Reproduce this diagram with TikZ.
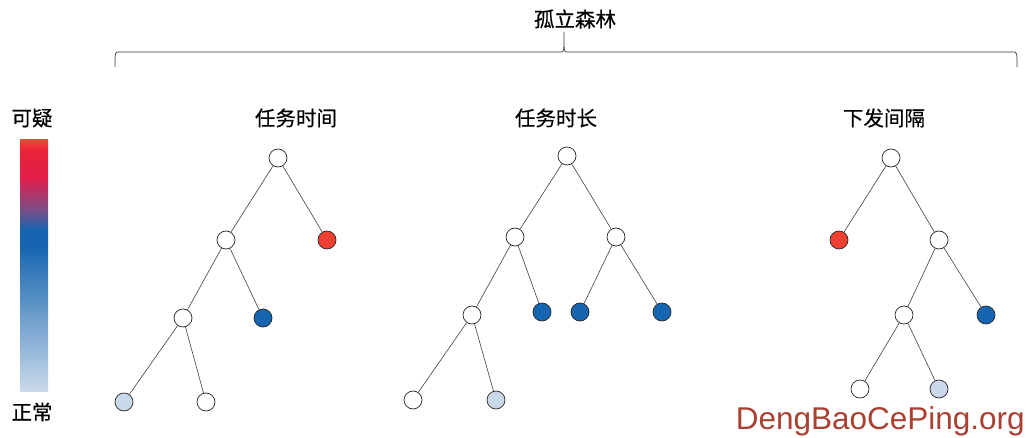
\documentclass[tikz,border=0pt]{standalone}
\usepackage{fontspec}
\newfontfamily\cjk[FakeBold=0.4]{Noto Sans CJK SC}
\newfontfamily\wmfont{Liberation Sans}
\definecolor{suspred}{RGB}{238,64,48}
\definecolor{normblue}{RGB}{21,101,176}
\definecolor{lightblue}{RGB}{201,217,234}
\definecolor{wmred}{RGB}{169,64,50}
\pgfdeclareverticalshading{scorebar}{100bp}{
  color(0bp)=(lightblue); color(25bp)=(lightblue);
  color(54bp)=(normblue); color(57bp)=(normblue);
  color(61.5bp)=(rgb,255:red,130;green,75;blue,130);
  color(67.5bp)=(rgb,255:red,226;green,30;blue,75);
  color(73bp)=(rgb,255:red,233;green,36;blue,55);
  color(75bp)=(rgb,255:red,238;green,68;blue,51); color(100bp)=(rgb,255:red,238;green,68;blue,51)}
\begin{document}
\begin{tikzpicture}[x=1pt,y=1pt,
  leaf/.style={circle,draw=black!85,line width=0.7pt,minimum size=18pt,inner sep=0pt,fill=white},
  hot/.style={leaf,fill=suspred},
  cold/.style={leaf,fill=normblue},
  cool/.style={leaf,fill=lightblue},
  title/.style={font=\cjk\fontsize{20.5}{24}\selectfont,inner sep=0pt},
  link/.style={draw=black!75,line width=0.6pt}]
  \useasboundingbox (0,0) rectangle (1026,437);
  % colour scale
  \shade[shading=scorebar] (20,46) rectangle (48,297);
  \node[title] (sus) at (32,319) {可疑};
  \node[title] (ok) at (32,25) {正常};
  % brace with heading
  \node[title] (forest) at (575,418) {孤立森林};
  \draw[line width=0.7pt,black!80] (115,370) .. controls (115,385) .. (119,385) -- (561,385)
    .. controls (564,385) .. (564,405) .. controls (564,385) .. (567,385) -- (1013,385)
    .. controls (1017,385) .. (1017,370);
  % tree 1
  \node[title] (t1) at (296,319) {任务时间};
  \node[leaf] (a0) at (278,279) {};
  \node[leaf] (a1) at (226,197) {};
  \node[hot]  (a2) at (327,197) {};
  \node[leaf] (a3) at (183,119) {};
  \node[cold] (a4) at (263,119) {};
  \node[cool] (a5) at (124,35) {};
  \node[leaf] (a6) at (206,35) {};
  \draw[link] (a0) -- (a1) (a0) -- (a2) (a1) -- (a3) (a1) -- (a4) (a3) -- (a5) (a3) -- (a6);
  % tree 2
  \node[title] (t2) at (556,319) {任务时长};
  \node[leaf] (b0) at (567,281) {};
  \node[leaf] (b1) at (515,200) {};
  \node[leaf] (b2) at (616,200) {};
  \node[leaf] (b3) at (472,122) {};
  \node[cold] (b4) at (542,125) {};
  \node[cold] (b5) at (580,125) {};
  \node[cold] (b6) at (662,125) {};
  \node[leaf] (b7) at (413,37) {};
  \node[cool] (b8) at (496,37) {};
  \draw[link] (b0) -- (b1) (b0) -- (b2) (b1) -- (b3) (b1) -- (b4) (b2) -- (b5) (b2) -- (b6)
    (b3) -- (b7) (b3) -- (b8);
  % tree 3
  \node[title] (t3) at (884,319) {下发间隔};
  \node[leaf] (c0) at (891,279) {};
  \node[hot]  (c1) at (839,197) {};
  \node[leaf] (c2) at (939,197) {};
  \node[leaf] (c3) at (904,122) {};
  \node[cold] (c4) at (986,122) {};
  \node[leaf] (c5) at (860,48) {};
  \node[cool] (c6) at (939,48) {};
  \draw[link] (c0) -- (c1) (c0) -- (c2) (c2) -- (c3) (c2) -- (c4) (c3) -- (c5) (c3) -- (c6);
  % watermark
  \node[anchor=base east,inner sep=0pt,text=wmred,font=\wmfont\fontsize{31.5}{36}\selectfont] (wm) at (1025,8) {DengBaoCePing.org};
\end{tikzpicture}
\end{document}
